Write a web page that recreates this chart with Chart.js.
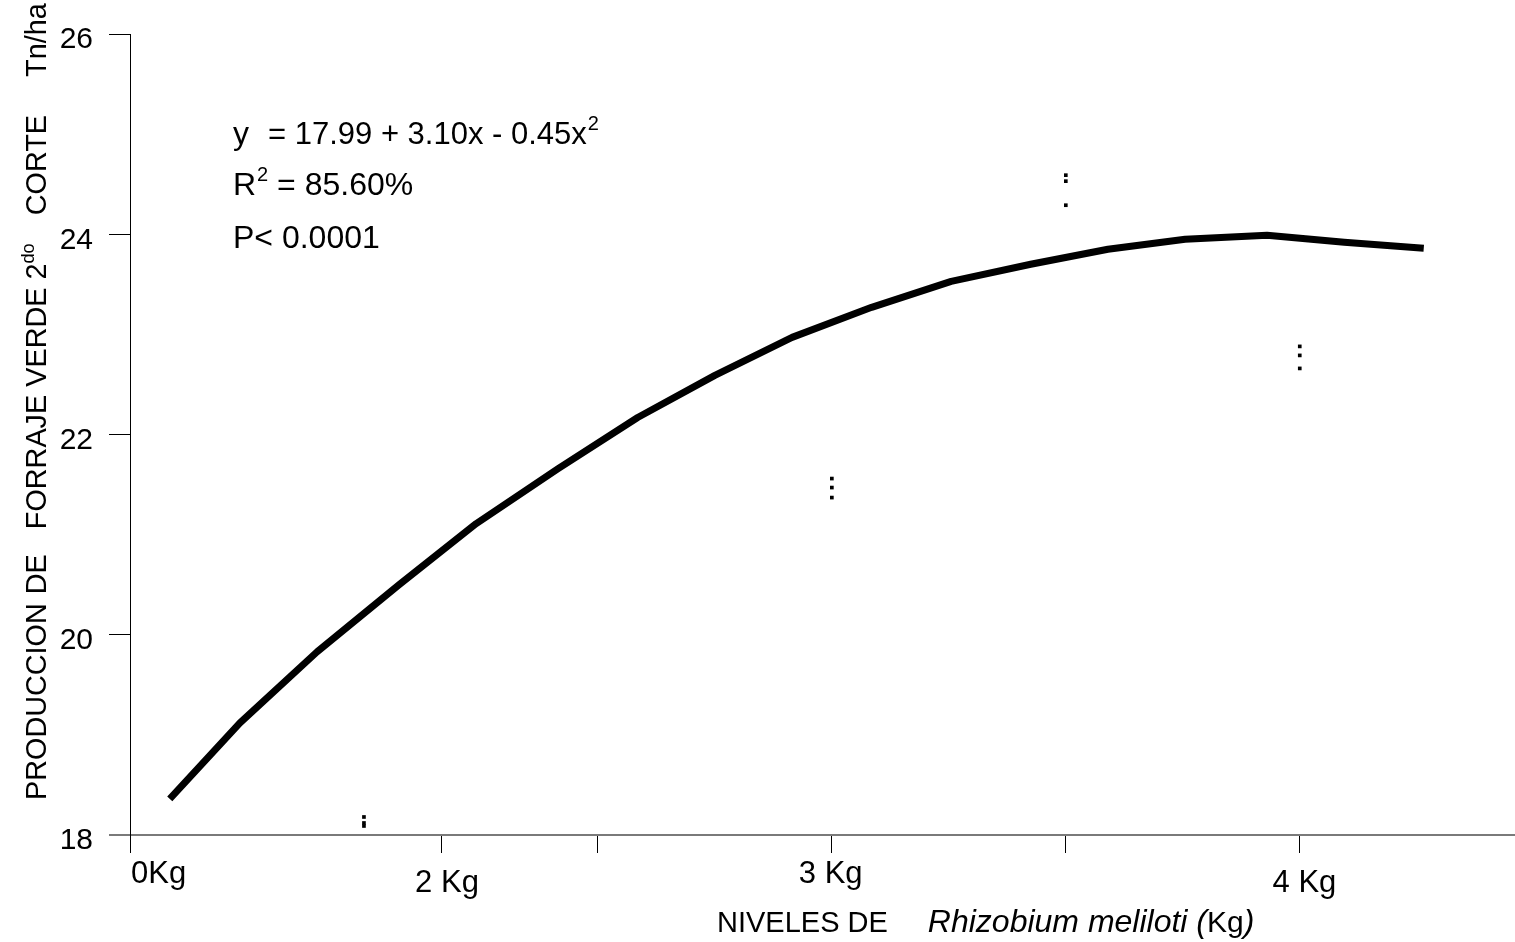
<!DOCTYPE html>
<html>
<head>
<meta charset="utf-8">
<script src="https://cdn.jsdelivr.net/npm/chart.js@4.4.1/dist/chart.umd.min.js"></script>
<style>
  body { margin: 0; background: #fff; }
  #wrap { width: 1515px; height: 942px; position: relative; }
</style>
</head>
<body>
<div id="wrap"><canvas id="myChart"></canvas></div>
<script>
// fitted curve (x in axis units, y in Tn/ha)
var curveX = [0.17, 0.47, 0.80, 1.15, 1.48, 1.83, 2.17, 2.50, 2.83, 3.17, 3.51, 3.85, 4.18, 4.51, 4.86, 5.19, 5.53];
var curveY = [18.36, 19.12, 19.83, 20.50, 21.11, 21.66, 22.17, 22.59, 22.97, 23.27, 23.53, 23.70, 23.85, 23.95, 23.99, 23.92, 23.86];

// observed values
var obsX = [1, 1, 1, 3, 3, 3, 4, 4, 4, 5, 5, 5];
var obsY = [18.18, 18.12, 18.09, 21.56, 21.47, 21.37, 24.59, 24.53, 24.29, 22.88, 22.79, 22.66];

// x axis ticks and labels
var xTickPos = [0, 1.333, 2, 3, 4, 5];
var xLabels = ['0Kg', '2 Kg', '3 Kg', '4 Kg'];
var xLabelPos = [0, 1.355, 2.995, 5.02];
var xLabelDrop = [0, 9, 0, 9];

var yTicks = [18, 20, 22, 24, 26];

var FONT = "'Liberation Sans', Arial, sans-serif";

function pts(xs, ys) {
    return xs.map(function (x, i) { return { x: x, y: ys[i] }; });
}

var textPlugin = {
    id: 'texts',
    afterDraw: function (chart) {
        var c = chart.ctx;
        var xs = chart.scales.x;
        var base = chart.chartArea.bottom;
        c.save();
        c.fillStyle = '#000';
        c.textBaseline = 'alphabetic';
        c.font = '31px ' + FONT;

        // x tick labels (staggered)
        xLabels.forEach(function (t, i) {
            var px = xs.getPixelForValue(xLabelPos[i]);
            c.textAlign = i === 0 ? 'left' : 'center';
            c.fillText(t, i === 0 ? px + 1 : px, base + 48 + xLabelDrop[i]);
        });

        // x title
        c.textAlign = 'left';
        var x0 = 717, by = 932;
        c.font = '29px ' + FONT;
        c.fillText('NIVELES DE', x0, by);
        x0 += c.measureText('NIVELES DE').width + 40;
        c.font = 'italic 32px ' + FONT;
        c.fillText('Rhizobium meliloti (', x0, by);
        x0 += c.measureText('Rhizobium meliloti (').width;
        c.font = '30px ' + FONT;
        c.fillText('Kg', x0, by);
        x0 += c.measureText('Kg').width;
        c.font = 'italic 32px ' + FONT;
        c.fillText(')', x0, by);

        // y title (rotated, slightly condensed)
        var sq = 0.96;
        c.save();
        c.translate(46, 800);
        c.rotate(-Math.PI / 2);
        c.scale(sq, 1);
        var p = 0;
        function seg(t, size, dy, gap) {
            c.font = size + 'px ' + FONT;
            c.fillText(t, p, dy);
            p += c.measureText(t).width + (gap || 0) / sq;
        }
        seg('PRODUCCION', 30, 0, 9);
        seg('DE', 30, 0, 25);
        seg('FORRAJE VERDE 2', 30, 0, 0);
        seg('do', 19, -12, 28);
        seg('CORTE', 30, 0, 38);
        seg('Tn/ha', 30, 0, 0);
        c.restore();

        // equation
        c.textAlign = 'left';
        c.font = '32px ' + FONT;
        c.fillText('y', 233, 144);
        c.font = '31px ' + FONT;
        var e1 = '= 17.99 + 3.10x - 0.45x';
        c.fillText(e1, 268, 144);
        var w1 = c.measureText(e1).width;
        c.font = '20px ' + FONT;
        c.fillText('2', 268 + w1 + 1, 130);
        c.font = '32px ' + FONT;
        c.fillText('R', 233, 195);
        var wr = c.measureText('R').width;
        c.font = '20px ' + FONT;
        c.fillText('2', 233 + wr + 1, 181);
        var ws = c.measureText('2').width;
        c.font = '32px ' + FONT;
        c.fillText(' = 85.60%', 233 + wr + ws + 1, 195);
        c.fillText('P< 0.0001', 233, 248);
        c.restore();
    }
};

var ctx = document.getElementById('myChart').getContext('2d');
var myChart = new Chart(ctx, {
    type: 'scatter',
    data: {
        datasets: [{
            label: 'Ajuste',
            data: pts(curveX, curveY),
            showLine: true,
            borderColor: '#000',
            borderWidth: 7,
            borderCapStyle: 'butt',
            borderJoinStyle: 'round',
            tension: 0,
            pointRadius: 0,
            pointHoverRadius: 0
        }, {
            label: 'Observado',
            data: pts(obsX, obsY),
            showLine: false,
            pointStyle: 'rect',
            pointRadius: 2.6,
            borderWidth: 0,
            backgroundColor: '#000'
        }]
    },
    options: {
        responsive: true,
        maintainAspectRatio: false,
        animation: false,
        events: [],
        layout: { autoPadding: false, padding: { top: 31, right: 0, left: 0, bottom: 0 } },
        plugins: {
            legend: { display: false },
            tooltip: { enabled: false }
        },
        scales: {
            x: {
                type: 'linear',
                min: 0,
                max: 5.92,
                afterBuildTicks: function (s) {
                    s.ticks = xTickPos.map(function (v) { return { value: v }; });
                },
                afterFit: function (s) { s.height = 107; },
                ticks: { display: false },
                grid: {
                    drawOnChartArea: false,
                    drawTicks: true,
                    tickLength: 18,
                    color: '#000',
                    lineWidth: 1
                },
                border: { display: true, color: '#7a7a7a', width: 2 }
            },
            y: {
                min: 18,
                max: 26,
                afterBuildTicks: function (s) {
                    s.ticks = yTicks.map(function (v) { return { value: v }; });
                },
                afterFit: function (s) { s.width = 130; },
                ticks: {
                    color: '#000',
                    padding: 16,
                    labelOffset: 6,
                    font: { family: FONT, size: 30 }
                },
                grid: {
                    drawOnChartArea: false,
                    drawTicks: true,
                    tickLength: 21,
                    color: function (c) { return c.tick && c.tick.value === 18 ? '#7a7a7a' : '#000'; },
                    lineWidth: function (c) { return c.tick && c.tick.value === 18 ? 2 : 1; }
                },
                border: { display: true, color: '#000', width: 1 }
            }
        }
    },
    plugins: [textPlugin]
});
</script>
</body>
</html>
